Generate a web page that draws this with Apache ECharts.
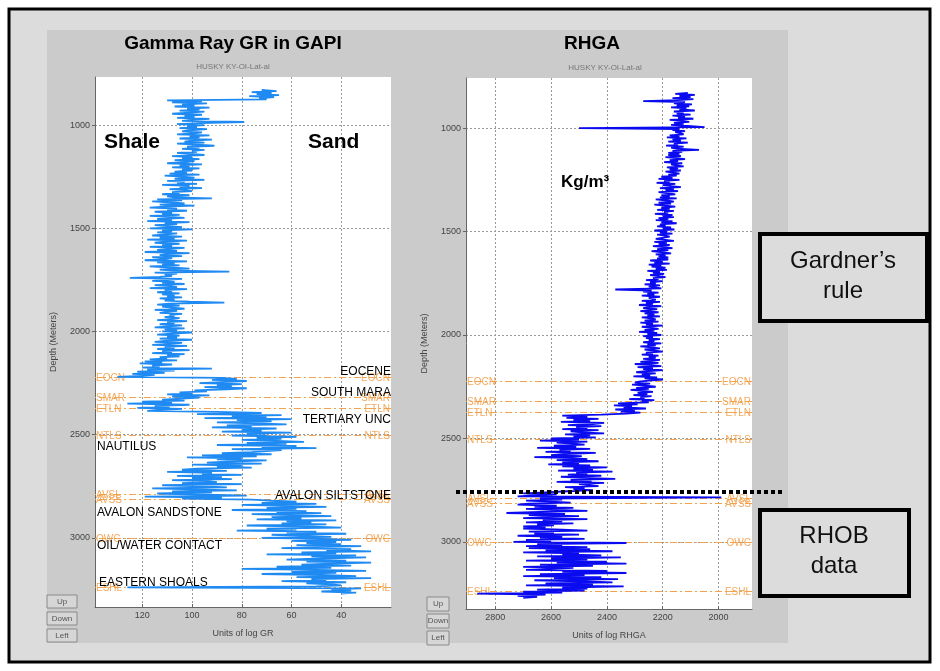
<!DOCTYPE html>
<html><head><meta charset="utf-8">
<script src="https://cdn.jsdelivr.net/npm/echarts@6/dist/echarts.min.js"></script>
<style>html,body{margin:0;padding:0;background:#fff}#c{width:940px;height:671px}</style>
</head><body><div id="c"></div>
<script>
// ---------- data ----------
const depthStart = 830;   // first sample depth (m)
const depthStep = 5;      // sampling step (m)

const grValues = [
  72,66,76,68,74,65,77,67,73,70,110,96,108,94,104,99,107,93,102,97,
  105,95,101,108,96,103,99,106,93,100,104,79,97,106,95,102,98,105,94,101,
  104,96,99,106,93,101,97,105,92,100,103,95,106,98,91,102,97,104,95,100,
  98,106,101,95,108,100,104,97,107,99,103,110,96,105,101,108,97,104,100,107,
  102,109,97,111,104,99,107,95,110,103,106,98,112,101,105,96,109,103,100,108,
  105,112,101,110,107,92,114,104,116,108,103,113,99,111,117,106,110,102,115,108,
  112,105,117,109,103,114,108,118,101,111,106,115,110,104,117,100,112,108,114,106,
  110,116,104,113,107,118,102,111,115,105,112,108,117,103,109,114,106,119,101,110,
  113,104,116,108,111,119,102,114,107,112,105,117,109,101,113,108,85,115,106,111,
  108,113,125,104,110,116,107,112,103,115,109,106,117,102,111,108,114,105,112,107,
  110,104,113,107,111,101,87,109,114,105,112,108,103,115,106,110,113,104,109,107,
  111,105,108,114,102,110,107,113,104,109,115,103,111,106,112,100,108,114,105,110,
  106,113,100,110,115,104,109,116,102,111,107,114,101,112,108,116,103,110,105,113,
  110,117,106,119,112,121,108,116,113,120,92,118,107,122,111,124,115,120,130,88,
  82,92,78,88,97,80,90,84,95,78,86,99,94,105,100,110,93,108,97,104,
  112,103,120,108,126,101,115,109,122,104,113,118,90,72,98,64,84,70,95,60,
  82,68,90,74,62,86,76,92,66,80,72,88,60,78,70,84,58,74,64,80,
  66,55,78,62,90,58,72,50,84,64,70,76,88,68,96,74,102,80,90,70,
  84,94,72,100,80,90,76,98,104,86,110,92,96,80,106,88,100,84,108,94,
  90,104,80,112,96,86,116,100,82,108,92,114,98,78,119,88,104,76,68,58,
  72,50,80,62,46,70,58,84,54,66,48,76,60,44,68,56,74,42,62,52,
  64,46,78,54,40,70,58,82,50,62,38,68,56,44,72,48,36,60,42,54,
  40,58,32,50,64,36,46,28,56,42,70,34,52,30,48,62,38,54,28,44,
  56,36,66,44,80,50,30,60,42,72,48,34,58,28,52,46,64,38,54,44,
  40,50,126,32,44,36,48,34,40
];

const rhgaValues = [
  2110,2155,2085,2140,2100,2165,2090,2145,2270,2120,2160,2095,2150,2105,2170,2115,2140,2085,2160,2125,
  2150,2100,2165,2120,2145,2090,2175,2130,2105,2160,2125,2170,2110,2050,2500,2140,2165,2120,2155,2135,
  2125,2175,2140,2185,2115,2165,2135,2180,2110,2160,2145,2188,2125,2170,2150,2070,2165,2130,2180,2140,
  2180,2135,2190,2150,2120,2175,2145,2195,2130,2170,2155,2125,2185,2145,2175,2135,2190,2160,2140,2180,
  2150,2205,2165,2215,2140,2195,2175,2222,2155,2200,2170,2135,2210,2160,2190,2145,2215,2180,2155,2205,
  2175,2210,2150,2225,2185,2160,2215,2170,2230,2190,2155,2205,2175,2220,2160,2195,2180,2228,2165,2200,
  2160,2215,2180,2225,2165,2205,2150,2210,2190,2220,2170,2200,2158,2230,2185,2210,2165,2220,2190,2175,
  2170,2225,2190,2160,2230,2185,2215,2175,2235,2195,2165,2220,2180,2240,2200,2170,2225,2190,2215,2180,
  2220,2180,2245,2200,2230,2175,2250,2205,2240,2190,2225,2185,2255,2210,2235,2195,2245,2215,2190,2235,
  2215,2260,2200,2245,2225,2265,2210,2250,2230,2205,2370,2240,2270,2215,2255,2230,2275,2210,2250,2235,
  2225,2275,2210,2260,2235,2285,2205,2250,2270,2220,2245,2280,2215,2265,2230,2255,2210,2275,2240,2225,
  2265,2215,2280,2235,2260,2200,2275,2240,2215,2265,2230,2285,2220,2255,2205,2270,2235,2260,2210,2250,
  2230,2270,2205,2255,2225,2280,2240,2210,2265,2230,2200,2260,2235,2275,2215,2250,2225,2270,2210,2245,
  2280,2215,2300,2240,2205,2290,2235,2270,2200,2260,2295,2225,2275,2245,2305,2220,2265,2199,2250,2285,
  2300,2245,2310,2260,2225,2295,2250,2315,2270,2235,2290,2255,2305,2240,2280,2265,2320,2230,2275,2250,
  2360,2290,2375,2310,2340,2260,2370,2300,2350,2280,2330,2420,2560,2470,2545,2430,2520,2460,2565,2410,
  2450,2540,2420,2510,2470,2560,2430,2530,2490,2410,2550,2460,2520,2440,2600,2500,2640,2470,2580,2520,
  2480,2590,2510,2650,2460,2570,2530,2620,2440,2550,2600,2490,2660,2520,2470,2580,2430,2560,2500,2610,
  2460,2560,2400,2520,2450,2575,2380,2510,2470,2540,2420,2565,2490,2370,2530,2455,2580,2410,2500,2470,
  2430,2550,2480,2520,2450,2540,2620,2700,2580,2660,2720,1990,2640,2560,2690,2600,2530,2680,2720,2580,
  2660,2520,2690,2580,2470,2640,2760,2550,2680,2500,2610,2700,2470,2630,2560,2690,2520,2650,2590,2700,
  2620,2700,2560,2470,2680,2590,2660,2500,2720,2560,2640,2480,2690,2600,2735,2330,2650,2560,2690,2470,
  2680,2460,2620,2380,2700,2500,2560,2420,2650,2350,2600,2470,2690,2400,2580,2330,2640,2450,2700,2520,
  2600,2690,2400,2560,2330,2640,2480,2700,2420,2590,2360,2660,2500,2380,2620,2450,2690,2340,2560,2470,
  2650,2480,2700,2560,2865,2620,2720,2650,2700
];

const depthTicks = [1000, 1500, 2000, 2500, 3000];
const grTicks = [40, 60, 80, 100, 120];
const rhgaTicks = [2000, 2200, 2400, 2600, 2800];

const formationCodes = ['EOCN', 'SMAR', 'ETLN', 'NTLS', 'AVSL', 'AVSS', 'OWC', 'ESHL'];
const formationDepths = [2222, 2320, 2374, 2505, 2788, 2815, 3000, 3238];

const grAnnoTexts = ['EOCENE', 'SOUTH MARA', 'TERTIARY UNC', 'NAUTILUS', 'AVALON SILTSTONE', 'AVALON SANDSTONE', 'OIL/WATER CONTACT', 'EASTERN SHOALS'];

// ---------- chart ----------
const FONT = '"Liberation Sans", Arial, sans-serif';
const chart = echarts.init(document.getElementById('c'), null, {renderer: 'canvas'});

function pairs(vals) { return vals.map((v, i) => [v, depthStart + i * depthStep]); }

function formationLines() {
  const out = [];
  formationCodes.forEach((c, i) => {
    ['insideStartTop', 'insideEndTop'].forEach(pos => {
      out.push({
        yAxis: formationDepths[i],
        lineStyle: {color: '#f4a24a', width: 1, type: [7, 3, 2, 3], opacity: 0.9},
        label: {show: true, position: pos, formatter: c, color: '#f2a04a', fontSize: 10,
                fontFamily: FONT, distance: [1, -6]}
      });
    });
  });
  return out;
}

const axisLabelStyle = {color: '#444', fontSize: 9, fontFamily: FONT, formatter: v => String(v)};
const split = {show: true, lineStyle: {color: '#9a9a9a', type: [2, 2], width: 1}};

function yAx(gi, min, max) {
  return {
    type: 'value', gridIndex: gi, inverse: true, min: min, max: max,
    name: 'Depth (Meters)', nameLocation: 'middle', nameGap: 37, nameRotate: 90,
    nameTextStyle: {color: '#444', fontSize: 9, fontFamily: FONT},
    axisLine: {show: true, lineStyle: {color: '#666', width: 1}},
    axisTick: {show: true, inside: false, length: 3, customValues: depthTicks, lineStyle: {color: '#666'}},
    axisLabel: Object.assign({customValues: depthTicks, margin: 5}, axisLabelStyle),
    splitLine: split
  };
}
function xAx(gi, min, max, ticks, name) {
  return {
    type: 'value', gridIndex: gi, inverse: true, min: min, max: max, position: 'bottom',
    name: name, nameLocation: 'middle', nameGap: 22,
    nameTextStyle: {color: '#444', fontSize: 9, fontFamily: FONT},
    axisLine: {show: true, onZero: false, lineStyle: {color: '#666', width: 1}},
    axisTick: {show: true, inside: true, length: 3, customValues: ticks, lineStyle: {color: '#666'}},
    axisLabel: Object.assign({customValues: ticks, margin: 4}, axisLabelStyle),
    splitLine: split
  };
}

const graphics = [
  {type: 'rect', z: -100, shape: {x: 9, y: 9, width: 921, height: 653},
   style: {fill: '#dcdcdc', stroke: '#000', lineWidth: 3}},
  {type: 'rect', z: -99, shape: {x: 47, y: 30, width: 741, height: 613}, style: {fill: '#cbcbcb'}},
  {type: 'text', style: {text: 'Gamma Ray GR in GAPI', x: 233, y: 44, font: 'bold 19px ' + FONT, fill: '#000', textAlign: 'center', textVerticalAlign: 'middle'}},
  {type: 'text', style: {text: 'HUSKY KY-OI-Lat-al', x: 233, y: 67, font: '8px ' + FONT, fill: '#777', textAlign: 'center', textVerticalAlign: 'middle'}},
  {type: 'text', style: {text: 'RHGA', x: 592, y: 44, font: 'bold 19px ' + FONT, fill: '#000', textAlign: 'center', textVerticalAlign: 'middle'}},
  {type: 'text', style: {text: 'HUSKY KY-OI-Lat-al', x: 605, y: 68, font: '8px ' + FONT, fill: '#777', textAlign: 'center', textVerticalAlign: 'middle'}},
  {type: 'text', z: 50, style: {text: 'Shale', x: 104, y: 142, font: 'bold 21px ' + FONT, fill: '#000', textAlign: 'left', textVerticalAlign: 'middle'}},
  {type: 'text', z: 50, style: {text: 'Sand', x: 308, y: 142, font: 'bold 21px ' + FONT, fill: '#000', textAlign: 'left', textVerticalAlign: 'middle'}},
  {type: 'text', z: 50, style: {text: 'Kg/m³', x: 561, y: 182, font: 'bold 17px ' + FONT, fill: '#000', textAlign: 'left', textVerticalAlign: 'middle'}},
  // dotted separator
  {type: 'line', z: 60, shape: {x1: 456, y1: 492, x2: 782, y2: 492}, style: {stroke: '#000', lineWidth: 4, lineDash: [4, 3]}},
  // boxes
  {type: 'rect', z: 60, shape: {x: 760, y: 234, width: 167, height: 87}, style: {fill: '#dcdcdc', stroke: '#000', lineWidth: 4}},
  {type: 'text', z: 61, style: {text: 'Gardner\u2019s', x: 843, y: 261, font: '24px ' + FONT, fill: '#111', textAlign: 'center', textVerticalAlign: 'middle'}},
  {type: 'text', z: 61, style: {text: 'rule', x: 843, y: 291, font: '24px ' + FONT, fill: '#111', textAlign: 'center', textVerticalAlign: 'middle'}},
  {type: 'rect', z: 60, shape: {x: 760, y: 510, width: 149, height: 86}, style: {fill: '#dcdcdc', stroke: '#000', lineWidth: 4}},
  {type: 'text', z: 61, style: {text: 'RHOB', x: 834, y: 536, font: '24px ' + FONT, fill: '#111', textAlign: 'center', textVerticalAlign: 'middle'}},
  {type: 'text', z: 61, style: {text: 'data', x: 834, y: 566, font: '24px ' + FONT, fill: '#111', textAlign: 'center', textVerticalAlign: 'middle'}}
];

// buttons
const btnLabels = ['Up', 'Down', 'Left'];
[[47, 595, 30, 13, 17], [427, 597, 22, 14, 17]].forEach(([bx, by, bw, bh, step]) => {
  btnLabels.forEach((t, i) => {
    graphics.push({type: 'rect', z: 20, shape: {x: bx, y: by + i * step, width: bw, height: bh},
      style: {fill: '#d6d6d6', stroke: '#8a8a8a', lineWidth: 1}});
    graphics.push({type: 'text', z: 21, style: {text: t, x: bx + bw / 2, y: by + i * step + bh / 2,
      font: '8px ' + FONT, fill: '#555', textAlign: 'center', textVerticalAlign: 'middle'}});
  });
});

// annotation texts in GR panel
const annoPos = [[391, 372, 'right'], [391, 393, 'right'], [391, 420, 'right'], [97, 447, 'left'],
                 [391, 496, 'right'], [97, 513, 'left'], [97, 546, 'left'], [99, 583, 'left']];
grAnnoTexts.forEach((t, i) => {
  const p = annoPos[i];
  graphics.push({type: 'text', z: 50, style: {text: t, x: p[0], y: p[1], font: '12px ' + FONT,
    fill: '#000', textAlign: p[2], textVerticalAlign: 'middle'}});
});

chart.setOption({
  backgroundColor: '#ffffff',
  animation: false,
  grid: [
    {left: 95, top: 77, width: 296, height: 530, show: true, backgroundColor: '#fff', borderWidth: 0},
    {left: 466, top: 78, width: 286, height: 531, show: true, backgroundColor: '#fff', borderWidth: 0}
  ],
  xAxis: [xAx(0, 20, 139, grTicks, 'Units of log GR'), xAx(1, 1880, 2905, rhgaTicks, 'Units of log RHGA')],
  yAxis: [yAx(0, 767, 3335), yAx(1, 758, 3324)],
  graphic: graphics,
  series: [
    {type: 'line', xAxisIndex: 0, yAxisIndex: 0, data: pairs(grValues), showSymbol: false, z: 3,
     lineStyle: {color: '#1e8af2', width: 1.8}, silent: true,
     markLine: {silent: true, symbol: 'none', z: 2, data: formationLines()}},
    {type: 'line', xAxisIndex: 1, yAxisIndex: 1, data: pairs(rhgaValues), showSymbol: false, z: 3,
     lineStyle: {color: '#0b0bf0', width: 1.8}, silent: true,
     markLine: {silent: true, symbol: 'none', z: 2, data: formationLines()}}
  ]
});
</script></body></html>
